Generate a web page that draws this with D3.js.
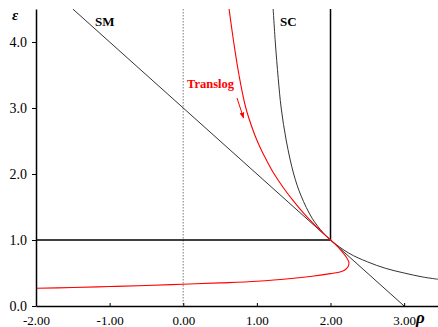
<!DOCTYPE html>
<html><head><meta charset="utf-8">
<script src="https://cdn.jsdelivr.net/npm/d3@7"></script>
<style>body{margin:0;background:#fff}svg{display:block}</style>
</head><body>
<svg id="c" width="438" height="327"></svg>
<script>
// ---- data ----
const xTicks = [-2, -1, 0, 1, 2, 3];
const yTicks = [0, 1, 2, 3, 4];
const smRho = [-1.5, 3.0];
const smEps = [4.5, 0.0];
const scRho = [1.22, 1.25, 1.29, 1.33, 1.4, 1.5, 1.6, 1.75, 1.9, 2.0, 2.25, 2.5, 2.75, 3.0, 3.25, 3.46];
const scEps = [4.52, 4.0, 3.45, 3.0, 2.5, 2.0, 1.67, 1.33, 1.11, 1.0, 0.8, 0.67, 0.57, 0.5, 0.44, 0.405];
const tlRho = [0.62, 0.685, 0.757, 0.85, 0.955, 1.005, 1.07, 1.135, 1.235, 1.355, 1.49, 1.64, 1.81, 1.903, 2.0, 2.08, 2.16, 2.22, 2.25, 2.24, 2.20, 2.14, 2.0, 1.75, 1.5, 1.0, 0.5, 0.0, -0.5, -1.0, -1.5, -2.0];
const tlEps = [4.52, 4.0, 3.5, 3.0, 2.64, 2.5, 2.34, 2.2, 2.0, 1.8, 1.6, 1.4, 1.2, 1.1, 1.0, 0.92, 0.82, 0.73, 0.66, 0.60, 0.55, 0.52, 0.49, 0.45, 0.42, 0.375, 0.35, 0.33, 0.31, 0.295, 0.28, 0.268];
const refEps = 1.0, refRho = 2.0;

// ---- drawing ----
const svg = d3.select("#c");
const x = d3.scaleLinear().domain([-2, 3.46]).range([36, 438]);
const y = d3.scaleLinear().domain([0, 4.5]).range([306, 9]);
const serif = "'Liberation Serif','Times New Roman',serif";

svg.append("defs").append("clipPath").attr("id", "clip")
  .append("rect").attr("x", 36).attr("y", 9).attr("width", 402).attr("height", 297);
svg.select("defs").append("marker").attr("id", "arr")
  .attr("viewBox", "0 0 10 10").attr("refX", 9).attr("refY", 5)
  .attr("markerWidth", 6).attr("markerHeight", 6).attr("orient", "auto")
  .append("path").attr("d", "M0,1L10,5L0,9Z").attr("fill", "#ff0000");

const plot = svg.append("g").attr("clip-path", "url(#clip)");

// dotted line at rho = 0
plot.append("line").attr("x1", x(0)).attr("x2", x(0)).attr("y1", y(4.5)).attr("y2", y(0))
  .attr("stroke", "#a0a0a0").attr("stroke-width", 1.4).attr("stroke-dasharray", "1.5,1.5");

// reference lines
plot.append("line").attr("x1", x(-2)).attr("x2", x(refRho)).attr("y1", y(refEps)).attr("y2", y(refEps))
  .attr("stroke", "#000").attr("stroke-width", 1.5);
plot.append("line").attr("x1", x(refRho)).attr("x2", x(refRho)).attr("y1", y(refEps)).attr("y2", y(4.5))
  .attr("stroke", "#000").attr("stroke-width", 1.5);

const line = d3.line().x(d => x(d[0])).y(d => y(d[1]));
plot.append("path").datum(d3.zip(smRho, smEps)).attr("d", line)
  .attr("fill", "none").attr("stroke", "#333").attr("stroke-width", 1);
plot.append("path").datum(d3.zip(scRho, scEps)).attr("d", line.curve(d3.curveCatmullRom))
  .attr("fill", "none").attr("stroke", "#333").attr("stroke-width", 1);
plot.append("path").datum(d3.zip(tlRho, tlEps)).attr("d", line.curve(d3.curveCatmullRom))
  .attr("fill", "none").attr("stroke", "#ff0000").attr("stroke-width", 1.1);

// axes
const xAxis = svg.append("g").attr("transform", "translate(0,306)")
  .call(d3.axisBottom(x).tickValues(xTicks).tickSizeInner(-3).tickSizeOuter(0).tickPadding(10).tickFormat(d => d.toFixed(2)));
xAxis.select(".domain").attr("stroke-width", 1.5);
xAxis.selectAll("text").attr("font-family", serif).attr("font-size", 13).attr("fill", "#000");
const yAxis = svg.append("g").attr("transform", "translate(36,0)")
  .call(d3.axisLeft(y).tickValues(yTicks).tickSizeInner(4).tickSizeOuter(0).tickPadding(5).tickFormat(d => d.toFixed(1)));
yAxis.select(".domain").attr("stroke-width", 1.5);
yAxis.selectAll("text").attr("font-family", serif).attr("font-size", 14).attr("fill", "#000");

// labels
svg.append("text").attr("x", 12).attr("y", 20).text("ε")
  .attr("font-family", serif).attr("font-weight", "bold").attr("font-style", "italic").attr("font-size", 15);
svg.append("text").attr("x", 416).attr("y", 323).text("ρ")
  .attr("font-family", serif).attr("font-weight", "bold").attr("font-style", "italic").attr("font-size", 17);
svg.append("text").attr("x", 95).attr("y", 26).text("SM")
  .attr("font-family", serif).attr("font-weight", "bold").attr("font-size", 13);
svg.append("text").attr("x", 280).attr("y", 26).text("SC")
  .attr("font-family", serif).attr("font-weight", "bold").attr("font-size", 13);
svg.append("text").attr("x", 187).attr("y", 88).text("Translog").attr("fill", "#ff0000")
  .attr("font-family", serif).attr("font-weight", "bold").attr("font-size", 12.5);
svg.append("line").attr("x1", 237).attr("y1", 98).attr("x2", 243.5).attr("y2", 118)
  .attr("stroke", "#ff0000").attr("stroke-width", 1).attr("marker-end", "url(#arr)");
</script>
</body></html>
